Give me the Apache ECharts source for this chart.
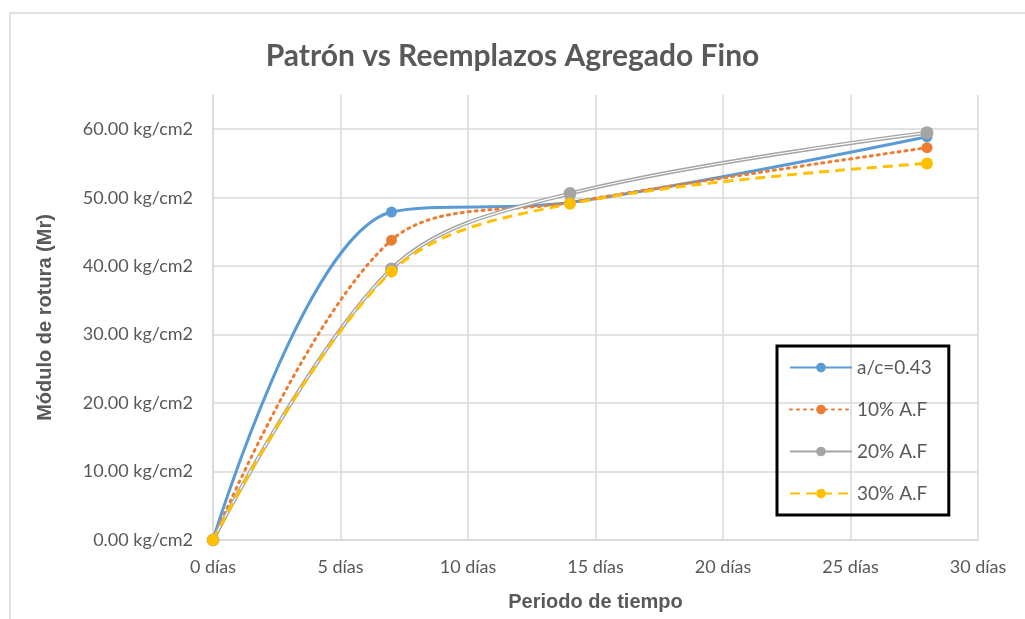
<!DOCTYPE html>
<html>
<head>
<meta charset="utf-8">
<script src="https://cdn.jsdelivr.net/npm/echarts@6/dist/echarts.min.js"></script>
<style>
  html, body { margin: 0; padding: 0; background: #fff; }
  #chart { width: 1025px; height: 619px; }
</style>
</head>
<body>
<div id="chart"></div>
<script>
// dias de ensayo
const dias = [0, 7, 14, 28];
// modulo de rotura kg/cm2
const patron = [0, 47.9, 49.3, 58.9];
const af10 = [0, 43.8, 49.3, 57.3];
const af20 = [0, 39.6, 50.6, 59.5];
const af30 = [0, 39.2, 49.1, 55.0];

const pares = arr => dias.map((d, i) => [d, arr[i]]);
const gris = '#595959';
const font = 'Lato';

let myChart = echarts.init(document.getElementById('chart'));
let option = {
    animation: false,
    textStyle: { fontFamily: font },
    title: {
        text: 'Patrón vs Reemplazos Agregado Fino',
        left: 'center',
        top: 36,
        textStyle: { fontSize: 30, fontWeight: 'bold', color: gris, fontFamily: font }
    },
    graphic: [{
        // borde del area del grafico
        type: 'polyline',
        shape: { points: [[10, 619], [10, 13], [1025, 13]] },
        style: { stroke: '#d9d9d9', lineWidth: 1.5, fill: null },
        silent: true
    }],
    grid: { left: 213, right: 47, top: 95, bottom: 79 },
    legend: {
        orient: 'vertical',
        left: 777,
        top: 346,
        padding: [12, 17, 12, 12],
        itemGap: 23,
        itemWidth: 62,
        itemHeight: 12,
        borderColor: '#000',
        borderWidth: 3,
        textStyle: { fontSize: 19, color: gris },
        data: ['a/c=0.43', '10% A.F', '20% A.F', '30% A.F']
    },
    xAxis: {
        type: 'value',
        min: 0,
        max: 30,
        interval: 5,
        name: 'Periodo de tiempo',
        nameLocation: 'middle',
        nameGap: 52,
        nameTextStyle: { fontSize: 20, fontWeight: 'bold', color: gris, fontFamily: 'Liberation Sans' },
        axisLine: { lineStyle: { color: '#d9d9d9', width: 1.5 } },
        axisTick: { show: false },
        axisLabel: { fontSize: 18, color: gris, margin: 18, formatter: '{value} días' },
        splitLine: { lineStyle: { color: '#d9d9d9', width: 1.5 } }
    },
    yAxis: {
        type: 'value',
        min: 0,
        max: 65,
        interval: 10,
        name: 'Módulo de rotura (Mr)',
        nameLocation: 'middle',
        nameGap: 158,
        nameTextStyle: { fontSize: 20, fontWeight: 'bold', color: gris, fontFamily: 'Liberation Sans' },
        axisLine: { show: true, lineStyle: { color: '#d9d9d9', width: 1.5 } },
        axisTick: { show: false },
        axisLabel: {
            fontSize: 18, color: gris, margin: 20, showMaxLabel: false,
            formatter: v => v.toFixed(2) + ' kg/cm2'
        },
        splitLine: { showMaxLine: false, lineStyle: { color: '#d9d9d9', width: 1.5 } }
    },
    series: [
        {
            name: 'a/c=0.43', type: 'line', smooth: 0.35, data: pares(patron),
            symbol: 'circle', symbolSize: 11,
            itemStyle: { color: '#5b9bd5' },
            lineStyle: { color: '#5b9bd5', width: 3 }
        },
        {
            name: '10% A.F', type: 'line', smooth: 0.35, data: pares(af10),
            symbol: 'circle', symbolSize: 11,
            itemStyle: { color: '#ed7d31' },
            lineStyle: { color: '#ed7d31', width: 3, type: [2, 5], cap: 'round' }
        },
        {
            name: '20% A.F', type: 'line', smooth: 0.35, data: pares(af20),
            symbol: 'circle', symbolSize: 13,
            itemStyle: { color: '#a5a5a5' },
            lineStyle: { color: '#a5a5a5', width: 4 }
        },
        {
            // linea interior blanca (linea doble)
            name: '20% interior', type: 'line', smooth: 0.35, data: pares(af20),
            symbol: 'none', silent: true,
            lineStyle: { color: '#ffffff', width: 1.2 }
        },
        {
            name: '30% A.F', type: 'line', smooth: 0.35, data: pares(af30),
            symbol: 'circle', symbolSize: 12,
            itemStyle: { color: '#ffc000' },
            lineStyle: { color: '#ffc000', width: 3, type: [10, 6] }
        }
    ]
};
myChart.setOption(option);
</script>
</body>
</html>
